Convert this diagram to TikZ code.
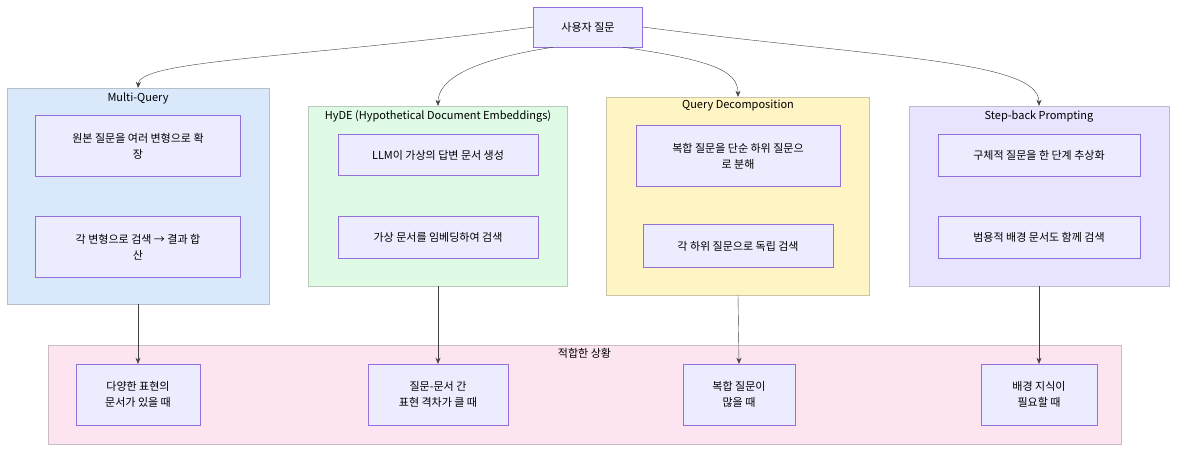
\documentclass[tikz,border=0pt]{standalone}
\usepackage{fontspec}
\setmainfont{Noto Sans CJK KR}
\usetikzlibrary{positioning,arrows.meta}
\definecolor{nodefill}{HTML}{ECECFF}
\definecolor{nodeline}{HTML}{9370DB}
\definecolor{gblue}{HTML}{DAE8FC}
\definecolor{ggreen}{HTML}{DFFBE6}
\definecolor{gyellow}{HTML}{FFF4C4}
\definecolor{gpurple}{HTML}{E8E4FF}
\definecolor{gpink}{HTML}{FCE4F1}
\begin{document}
\begin{tikzpicture}[x=1pt,y=-1pt,
    box/.style={draw=nodeline, fill=nodefill, align=center, font=\fontsize{11}{16}\selectfont, inner sep=0pt},
    group/.style={draw=#1!60!gray, fill=#1, inner sep=0pt},
    title/.style={font=\fontsize{11}{14}\selectfont},
    link/.style={draw=black!75, -{Stealth[length=6pt,width=5pt]}}
    ]
    \useasboundingbox (0,0) rectangle (1184,455);
    %Groups
    \node[group=gblue, minimum width=262, minimum height=216] (mq) at (138,196) {};
    \node[group=ggreen, minimum width=259, minimum height=180] (hy) at (438,196) {};
    \node[group=gyellow, minimum width=263, minimum height=198] (qd) at (738,196) {};
    \node[group=gpurple, minimum width=260, minimum height=180] (sb) at (1039,196) {};
    \node[group=gpink, minimum width=1073, minimum height=99] (fit) at (584.5,394.5) {};
    \node[title] at (138,98) {Multi-Query};
    \node[title] at (438,116) {HyDE (Hypothetical Document Embeddings)};
    \node[title] at (738,106) {Query Decomposition};
    \node[title] at (1039,116) {Step-back Prompting};
    \node[title] at (584.5,353) {적합한 상황};
    %Nodes
    \node[box, minimum width=109, minimum height=40] (q) at (588,27) {사용자 질문};
    \node[box, minimum width=205, minimum height=61] (mq1) at (138,146) {원본 질문을 여러 변형으로 확\\장};
    \node[box, minimum width=205, minimum height=61] (mq2) at (138,247) {각 변형으로 검색 → 결과 합\\산};
    \node[box, minimum width=200, minimum height=41] (hy1) at (438,155) {LLM이 가상의 답변 문서 생성};
    \node[box, minimum width=200, minimum height=42] (hy2) at (438,237) {가상 문서를 임베딩하여 검색};
    \node[box, minimum width=204, minimum height=61] (qd1) at (738,156) {복합 질문을 단순 하위 질문으\\로 분해};
    \node[box, minimum width=190, minimum height=43] (qd2) at (738,246) {각 하위 질문으로 독립 검색};
    \node[box, minimum width=202, minimum height=42] (sb1) at (1039,155) {구체적 질문을 한 단계 추상화};
    \node[box, minimum width=202, minimum height=42] (sb2) at (1039,237) {범용적 배경 문서도 함께 검색};
    \node[box, minimum width=124, minimum height=61] (f1) at (138,394.5) {다양한 표현의\\문서가 있을 때};
    \node[box, minimum width=140, minimum height=61] (f2) at (438,394.5) {질문-문서 간\\표현 격차가 클 때};
    \node[box, minimum width=112, minimum height=61] (f3) at (739,394.5) {복합 질문이\\많을 때};
    \node[box, minimum width=116, minimum height=61] (f4) at (1039,394.5) {배경 지식이\\필요할 때};
    %Lines
    \draw[link] (q.west) .. controls (300,58) and (140,60) .. (mq.north);
    \draw[link] ([xshift=20pt]q.south west) .. controls (470,60) and (438,80) .. (hy.north);
    \draw[link] ([xshift=-20pt]q.south east) .. controls (710,60) and (738,70) .. (qd.north);
    \draw[link] (q.east) .. controls (880,58) and (1039,60) .. (sb.north);
    \draw[link] (mq.south) -- (f1.north);
    \draw[link] (hy.south) -- (f2.north);
    \draw[link] (qd.south) -- (f3.north);
    \draw[link] (sb.south) -- (f4.north);
\end{tikzpicture}
\end{document}
